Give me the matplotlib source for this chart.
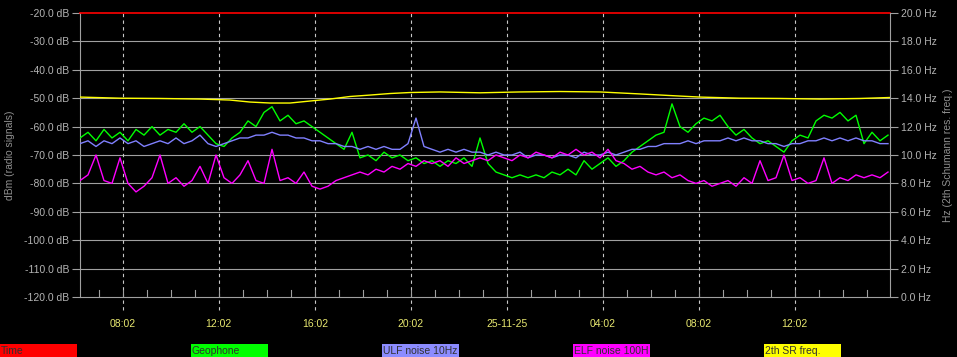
import matplotlib.pyplot as plt
from matplotlib.patches import Rectangle
import numpy as np

# sample times, hours after 06:15 (one every 20 min)
t = np.arange(102) / 3.0

geophone = [-64, -62, -65, -61, -64, -62, -65, -61, -63, -60,
            -63, -61, -62, -59, -62, -60, -63, -66, -67, -64,
            -62, -58, -60, -55, -53, -58, -56, -59, -58, -60,
            -62, -64, -66, -68, -62, -71, -70, -72, -69, -71,
            -70, -72, -71, -73, -72, -74, -72, -73, -71, -74,
            -64, -73, -76, -77, -78, -77, -78, -77, -78, -76,
            -77, -75, -77, -72, -75, -73, -71, -74, -72, -69,
            -67, -65, -63, -62, -52, -60, -62, -59, -57, -58,
            -56, -60, -63, -61, -64, -66, -65, -67, -69, -65,
            -63, -64, -58, -56, -57, -55, -58, -56, -66, -62,
            -65, -63]

ulf = [-66, -65, -67, -65, -66, -64, -66, -65, -67, -66,
       -65, -66, -64, -66, -65, -63, -66, -67, -66, -65,
       -64, -64, -63, -63, -62, -63, -63, -64, -64, -65,
       -65, -66, -66, -67, -67, -68, -67, -68, -67, -68,
       -68, -66, -57, -67, -68, -69, -68, -69, -68, -69,
       -69, -70, -69, -70, -70, -69, -71, -70, -70, -71,
       -70, -70, -71, -69, -70, -70, -69, -70, -69, -68,
       -68, -67, -67, -66, -66, -66, -65, -66, -65, -65,
       -65, -64, -65, -64, -65, -65, -66, -66, -67, -66,
       -66, -65, -65, -64, -65, -64, -65, -64, -65, -65,
       -66, -66]

elf = [-79, -77, -70, -79, -80, -71, -80, -83, -81, -78,
       -70, -80, -78, -81, -79, -74, -80, -70, -78, -80,
       -77, -72, -79, -80, -68, -79, -78, -80, -76, -81,
       -82, -81, -79, -78, -77, -76, -77, -75, -76, -74,
       -75, -73, -74, -72, -73, -72, -74, -71, -73, -72,
       -71, -72, -70, -71, -72, -70, -71, -69, -70, -71,
       -69, -70, -68, -70, -69, -71, -68, -72, -73, -75,
       -74, -76, -77, -76, -78, -77, -79, -80, -79, -81,
       -80, -79, -81, -78, -80, -72, -79, -78, -70, -79,
       -78, -80, -79, -71, -80, -78, -79, -77, -78, -77,
       -78, -76]

# 2nd Schumann resonance frequency (Hz, right axis)
sr_t = [0, 1.67, 3.33, 5, 6.25, 7.08, 7.92, 8.75, 9.58, 10.42,
        11.25, 12.08, 12.92, 13.75, 15, 16.67, 18.33, 20, 21.67, 23.33,
        25, 25.83, 27.5, 29.17, 30.83, 32.5, 33.75]
sr_freq = [14.08, 14.0, 13.98, 13.94, 13.87, 13.73, 13.66, 13.66, 13.8, 13.94,
           14.12, 14.22, 14.33, 14.4, 14.44, 14.38, 14.44, 14.47, 14.44, 14.3,
           14.15, 14.08, 14.0, 13.98, 13.94, 13.98, 14.05]

time_ticks = [1.783 + 4 * k for k in range(8)]
time_labels = ['08:02', '12:02', '16:02', '20:02', '25-11-25', '04:02', '08:02', '12:02']

legend_names = ['Time', 'Geophone', 'ULF noise 10Hz', 'ELF noise 100H', '2th SR freq.']
legend_colors = ['#ff0000', '#00ff00', '#8c8cff', '#ff00ff', '#ffff00']

plt.rcParams['font.family'] = ['Liberation Sans', 'DejaVu Sans']
txt = '#b4b4b4'
grid = '#a0a0a0'
fs = 7.5

fig = plt.figure(figsize=(9.57, 3.57), dpi=100, facecolor='black')
ax = fig.add_axes([80 / 957, 60 / 357, 810 / 957, 284 / 357])
ax.set_facecolor('black')
ax.set_xlim(0, 33.75)
ax.set_ylim(-120, -20)

for v in range(-110, -20, 10):
    ax.axhline(v, color=grid, lw=0.8, zorder=1)
ax.axhline(-20, color='#ff0000', lw=1.2, zorder=5, clip_on=False)

for x in time_ticks:
    ax.plot([x, x], [-0.046, 1], transform=ax.get_xaxis_transform(), color='#c8c8c8',
            lw=0.8, ls=(0, (3, 3)), clip_on=False, zorder=1)
for m in np.arange(0.783, 33.75, 1.0):
    ax.plot([m, m], [0, 0.025], transform=ax.get_xaxis_transform(), color=grid, lw=0.8)

ax.plot(t, geophone, color='#00ff00', lw=1, zorder=3)
ax.plot(t, ulf, color='#8080ff', lw=1, zorder=4)
ax.plot(t, elf, color='#ff00ff', lw=1, zorder=4)

ax.set_xticks(time_ticks)
ax.set_xticklabels(time_labels, color='#e8e870', fontsize=fs)
ax.tick_params(axis='x', length=0, pad=16)
ax.set_yticks(range(-120, -10, 10))
ax.set_yticklabels([f'{v:.1f} dB' for v in range(-120, -10, 10)], color=txt, fontsize=fs)
ax.tick_params(axis='y', length=6, color=grid, pad=2)
ax.set_ylabel('dBm (radio signals)', color='#909090', fontsize=fs)
ax.yaxis.set_label_coords(-0.080, 0.5)
for s in ['left', 'bottom']:
    ax.spines[s].set_color(grid)
ax.spines['top'].set_visible(False)
ax.spines['right'].set_visible(False)

ax2 = ax.twinx()
ax2.set_ylim(0, 20)
ax2.plot(sr_t, sr_freq, color='#ffff00', lw=1, zorder=3)
ax2.set_yticks(range(0, 21, 2))
ax2.set_yticklabels([f'{v:.1f} Hz' for v in range(0, 21, 2)], color=txt, fontsize=fs)
ax2.tick_params(axis='y', length=6, color=grid, pad=2)
ax2.set_ylabel('Hz (2th Schumann res. freq.)', color='#909090', fontsize=fs)
ax2.yaxis.set_label_coords(1.066, 0.5)
ax2.spines['right'].set_color(grid)
for s in ['left', 'bottom', 'top']:
    ax2.spines[s].set_visible(False)

for i, (name, col) in enumerate(zip(legend_names, legend_colors)):
    x0 = 191 * i
    fig.add_artist(Rectangle((x0 / 957, 0), 77 / 957, 13 / 357, transform=fig.transFigure,
                             facecolor=col, edgecolor='none'))
    fig.text((x0 + 1) / 957, 6 / 357, name, color='#303030', fontsize=fs, va='center')

fig.savefig('out.png', dpi=100, facecolor='black')
